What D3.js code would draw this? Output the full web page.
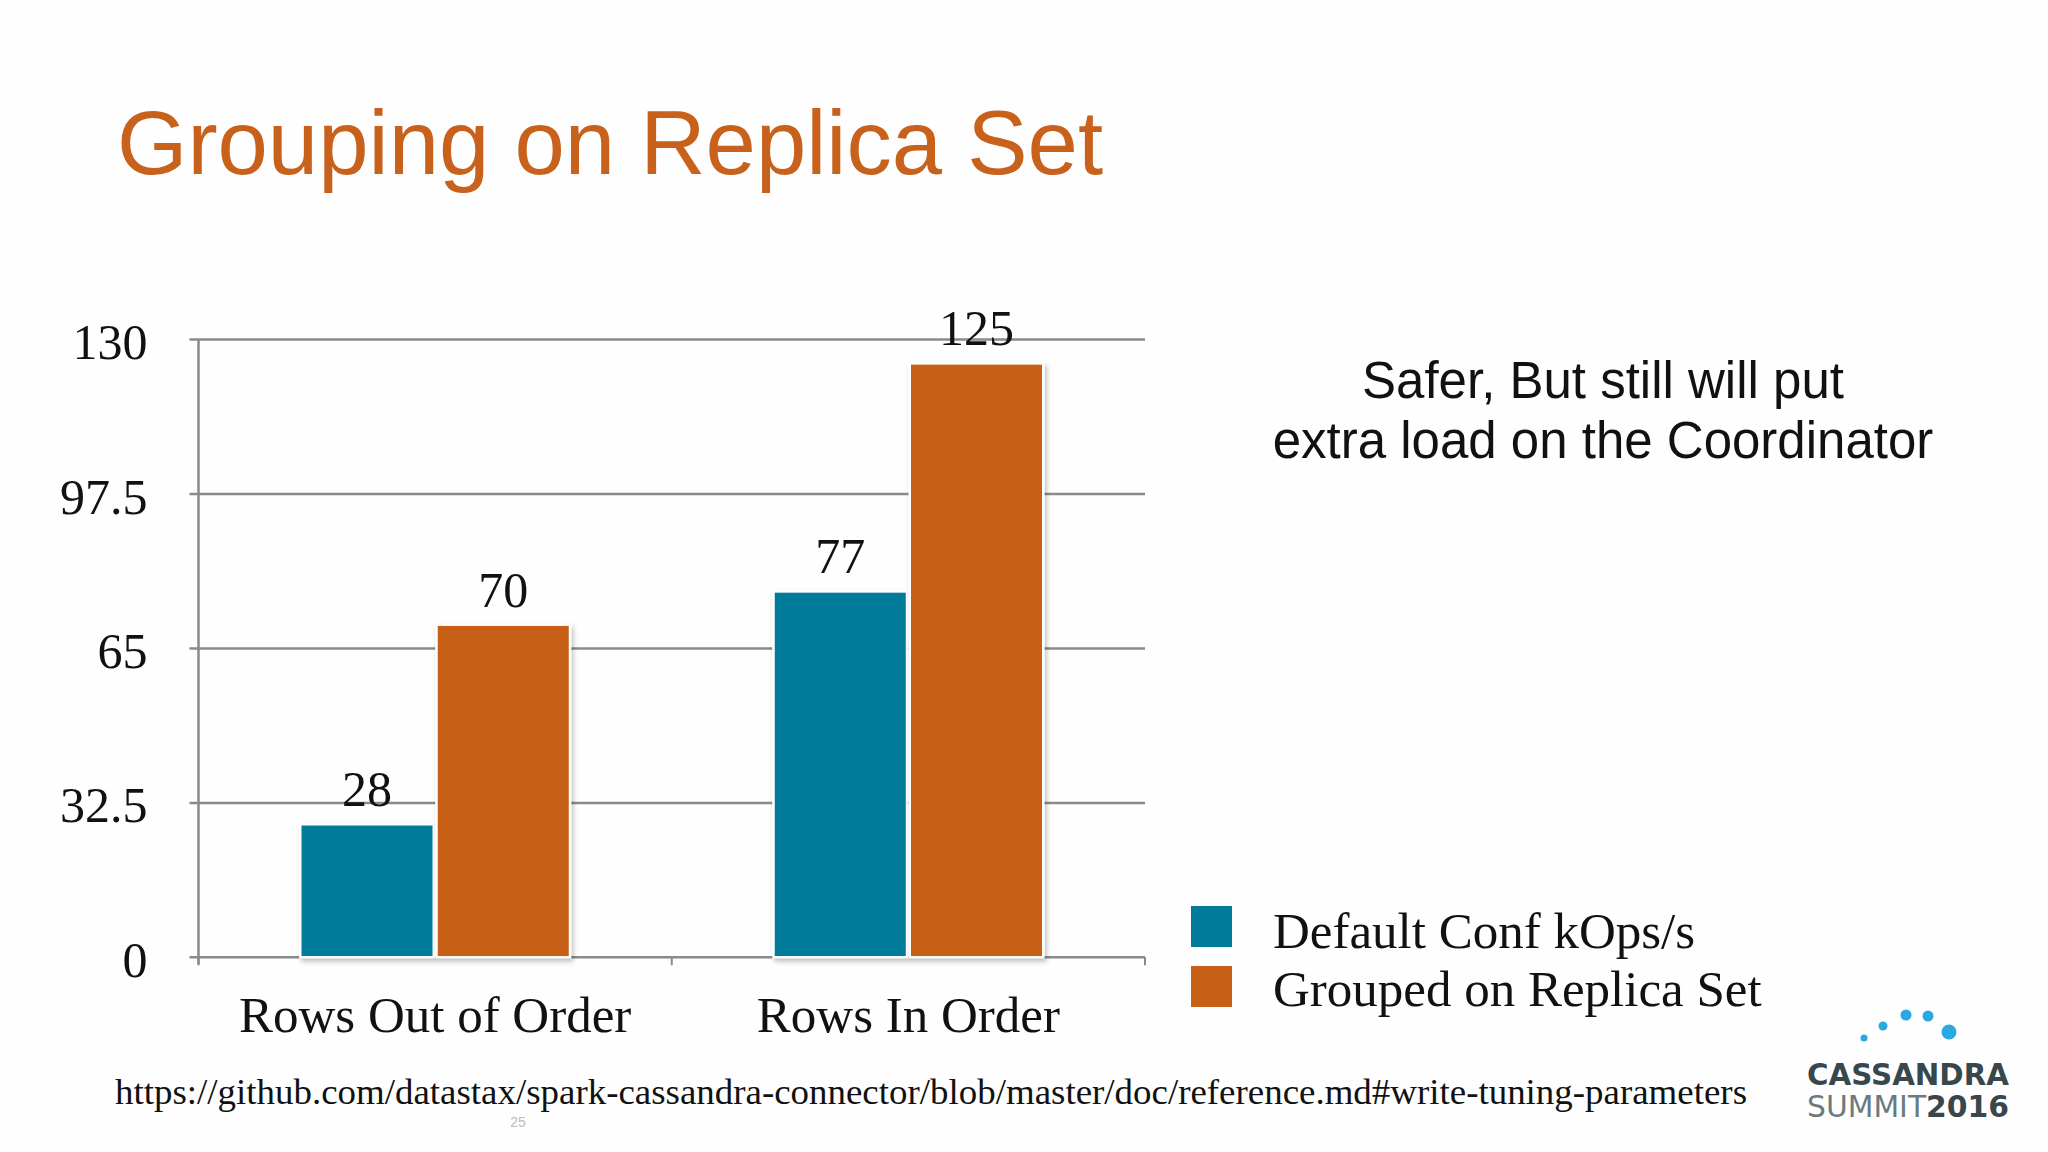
<!DOCTYPE html>
<html><head><meta charset="utf-8">
<script src="https://cdn.jsdelivr.net/npm/d3@7"></script>
<style>
html,body{margin:0;padding:0;background:#fff;}
svg{display:block;}
</style></head>
<body>
<svg id="c" width="2048" height="1152"></svg>
<script>
const categories = ["Rows Out of Order", "Rows In Order"];
const seriesNames = ["Default Conf kOps/s", "Grouped on Replica Set"];
const defaultConf = [28, 77];
const groupedReplica = [70, 125];
const yTicks = [0, 32.5, 65, 97.5, 130];
const yTickLabels = ["0", "32.5", "65", "97.5", "130"];
const colors = ["#007b9a", "#c75f15"];

const svg = d3.select("#c");
svg.append("rect").attr("width", 2048).attr("height", 1152).attr("fill", "#fefefe");

const defs = svg.append("defs");
const f = defs.append("filter").attr("id", "sh").attr("x", "-10%").attr("y", "-10%").attr("width", "130%").attr("height", "130%");
f.append("feDropShadow").attr("dx", 2).attr("dy", 3).attr("stdDeviation", 2.5).attr("flood-color", "#000").attr("flood-opacity", 0.25);

// Title
svg.append("text").attr("x", 117).attr("y", 174)
  .attr("font-family", "Liberation Sans, Arial, sans-serif").attr("font-size", 90.5)
  .attr("fill", "#c8611b").text("Grouping on Replica Set");

const x0 = 198.5, x1 = 1145, yTop = 339.6, yBot = 957.3;
const x = d3.scaleBand().domain(categories).range([x0, x1]).paddingInner(0.43).paddingOuter(0.215);
const xs = d3.scaleBand().domain(seriesNames).range([0, x.bandwidth()]).paddingInner(0.02);
const y = d3.scaleLinear().domain([0, 130]).range([yBot, yTop]);

const grey = "#8a8a8a";
// gridlines
svg.append("g").selectAll("line").data(yTicks).join("line")
  .attr("x1", x0 - 9).attr("x2", x1)
  .attr("y1", d => y(d)).attr("y2", d => y(d))
  .attr("stroke", grey).attr("stroke-width", 2.5);

// y axis labels
const yAxis = d3.axisLeft(y).tickValues(yTicks).tickFormat((d, i) => yTickLabels[i]).tickSize(0).tickPadding(51);
const ga = svg.append("g").attr("transform", `translate(${x0},0)`).call(yAxis);
ga.select(".domain").remove();
ga.selectAll("text").attr("font-family", "Liberation Serif, Times New Roman, serif")
  .attr("font-size", 50).attr("fill", "#111").attr("dy", "0.38em");

// y axis line
svg.append("line").attr("x1", x0).attr("x2", x0).attr("y1", y(130)).attr("y2", yBot + 7)
  .attr("stroke", grey).attr("stroke-width", 2.5);

// category boundary ticks
const bounds = [x0, (x0 + x1) / 2, x1];
svg.append("g").selectAll("line").data(bounds).join("line")
  .attr("x1", d => d).attr("x2", d => d).attr("y1", yBot).attr("y2", yBot + 8)
  .attr("stroke", grey).attr("stroke-width", 2);

// bars
const data = [];
categories.forEach((c, i) => {
  data.push({cat: c, s: seriesNames[0], v: defaultConf[i], col: colors[0]});
  data.push({cat: c, s: seriesNames[1], v: groupedReplica[i], col: colors[1]});
});
const gb = svg.append("g");
gb.selectAll("rect").data(data).join("rect")
  .attr("x", d => x(d.cat) + xs(d.s))
  .attr("y", d => y(d.v))
  .attr("width", xs.bandwidth())
  .attr("height", d => y(0) - y(d.v))
  .attr("fill", d => d.col)
  .attr("stroke", "#fff").attr("stroke-width", 2.5)
  .attr("filter", "url(#sh)");

// value labels
svg.append("g").selectAll("text").data(data).join("text")
  .attr("x", d => x(d.cat) + xs(d.s) + xs.bandwidth() / 2)
  .attr("y", d => y(d.v) - 18)
  .attr("text-anchor", "middle")
  .attr("font-family", "Liberation Serif, Times New Roman, serif")
  .attr("font-size", 50).attr("fill", "#111")
  .text(d => d.v);

// category labels
svg.append("g").selectAll("text").data(categories).join("text")
  .attr("x", d => x(d) + x.bandwidth() / 2)
  .attr("y", 1032)
  .attr("text-anchor", "middle")
  .attr("font-family", "Liberation Serif, Times New Roman, serif")
  .attr("font-size", 51).attr("fill", "#111")
  .text(d => d);

// legend
const lg = svg.append("g");
seriesNames.forEach((s, i) => {
  lg.append("rect").attr("x", 1191).attr("y", 906 + i * 60).attr("width", 41).attr("height", 41).attr("fill", colors[i]);
  lg.append("text").attr("x", 1273).attr("y", 948 + i * 58)
    .attr("font-family", "Liberation Serif, Times New Roman, serif")
    .attr("font-size", 51).attr("fill", "#111").text(s);
});

// annotation
const ann = ["Safer, But still will put", "extra load on the Coordinator"];
svg.append("g").selectAll("text").data(ann).join("text")
  .attr("x", 1603).attr("y", (d, i) => 398 + i * 60)
  .attr("text-anchor", "middle")
  .attr("font-family", "Liberation Sans, Arial, sans-serif")
  .attr("font-size", 51).attr("fill", "#111").text(d => d);

// URL
svg.append("text").attr("x", 115).attr("y", 1104)
  .attr("font-family", "Liberation Serif, Times New Roman, serif")
  .attr("font-size", 36).attr("fill", "#111")
  .attr("textLength", 1632).attr("lengthAdjust", "spacingAndGlyphs")
  .text("https://github.com/datastax/spark-cassandra-connector/blob/master/doc/reference.md#write-tuning-parameters");

// page number
svg.append("text").attr("x", 518).attr("y", 1127).attr("text-anchor", "middle")
  .attr("font-family", "Liberation Sans, Arial, sans-serif").attr("font-size", 14).attr("fill", "#bbb").text("25");

// logo
const dots = [[1864,1038,3.5],[1883,1026,4.5],[1906,1015,5.5],[1928,1016,5.5],[1949,1032,7.5]];
svg.append("g").selectAll("circle").data(dots).join("circle")
  .attr("cx", d => d[0]).attr("cy", d => d[1]).attr("r", d => d[2]).attr("fill", "#2aa9e0");
svg.append("text").attr("x", 1807).attr("y", 1085)
  .attr("font-family", "DejaVu Sans, sans-serif").attr("font-weight", "bold").attr("font-size", 30)
  .attr("textLength", 202).attr("lengthAdjust", "spacingAndGlyphs")
  .attr("fill", "#37474c").text("CASSANDRA");
const t2 = svg.append("text").attr("x", 1807).attr("y", 1117)
  .attr("font-family", "DejaVu Sans, sans-serif").attr("font-size", 30)
  .attr("textLength", 202).attr("lengthAdjust", "spacingAndGlyphs");
t2.append("tspan").attr("fill", "#6b7a7f").text("SUMMIT");
t2.append("tspan").attr("fill", "#37474c").attr("font-weight", "bold").text("2016");
</script>
</body></html>
